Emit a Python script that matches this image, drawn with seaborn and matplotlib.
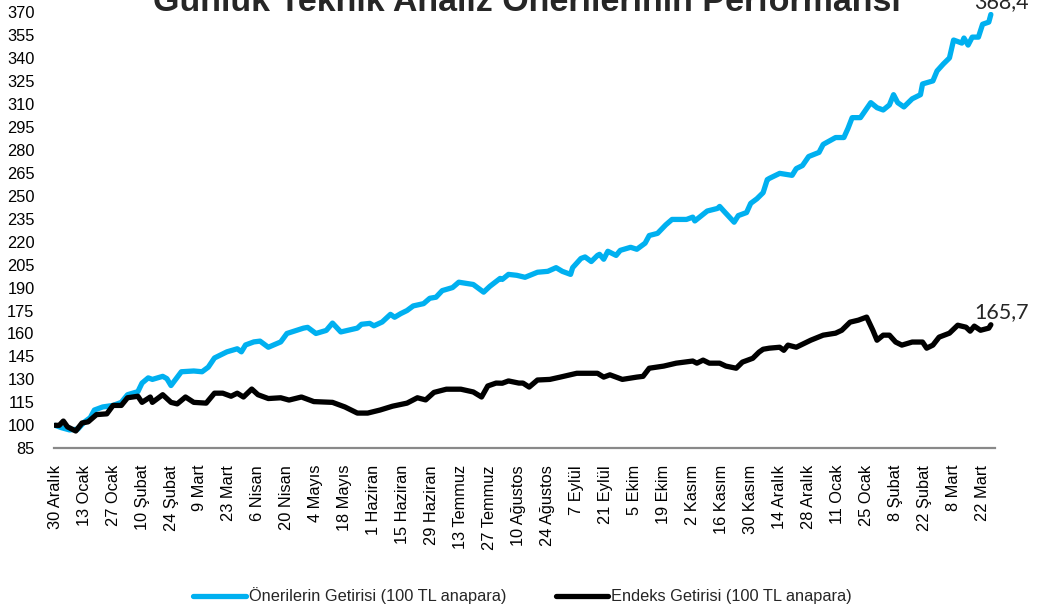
import pandas as pd
import matplotlib.pyplot as plt
import seaborn as sns

BASLANGIC = "2019-12-30"

tick_etiketleri = [
    "30 Aralık", "13 Ocak", "27 Ocak", "10 Şubat", "24 Şubat", "9 Mart", "23 Mart",
    "6 Nisan", "20 Nisan", "4 Mayıs", "18 Mayıs", "1 Haziran", "15 Haziran",
    "29 Haziran", "13 Temmuz", "27 Temmuz", "10 Ağustos", "24 Ağustos", "7 Eylül",
    "21 Eylül", "5 Ekim", "19 Ekim", "2 Kasım", "16 Kasım", "30 Kasım", "14 Aralık",
    "28 Aralık", "11 Ocak", "25 Ocak", "8 Şubat", "22 Şubat", "8 Mart", "22 Mart",
]

# gün = 30 Aralık 2019'dan itibaren geçen gün sayısı
oneri_gun = [
    0, 3, 7, 11, 14, 17, 19, 23, 28, 32,
    35, 40, 42, 45, 47, 52, 54, 56, 61, 67,
    71, 74, 77, 83, 88, 90, 92, 96, 99, 103,
    109, 112, 120, 122, 126, 131, 134, 138, 146, 148,
    152, 154, 158, 162, 164, 167, 170, 173, 178, 181,
    184, 187, 192, 195, 202, 207, 210, 215, 216, 219,
    223, 227, 233, 238, 242, 245, 249, 250, 254, 256,
    259, 262, 263, 265, 267, 271, 273, 278, 281, 285,
    287, 291, 295, 298, 305, 308, 309, 315, 320, 321,
    323, 328, 330, 334, 336, 339, 342, 344, 345, 350,
    356, 358, 361, 364, 369, 371, 377, 381, 383, 385,
    389, 394, 397, 400, 403, 405, 407, 410, 414, 418,
    419, 424, 426, 429, 432, 434, 438, 439, 441, 443,
    446, 448, 451, 452,
]
oneri_deger = [
    100, 98.5, 97, 97.5, 102, 105, 110, 112, 113, 115,
    120, 122, 127.6, 131, 130, 132, 130.5, 126, 135, 135.5,
    135, 138, 144, 148, 150, 148, 152.5, 154.5, 155, 151,
    154.5, 160, 163.5, 164, 160, 162, 166.8, 161, 163.5, 166,
    166.6, 165, 167.5, 172.5, 170.6, 173, 175, 178, 179.5, 183,
    183.7, 188, 190, 193.5, 192, 187, 190.8, 196, 195.3, 198.6,
    198, 196.7, 200, 200.6, 203, 200.6, 198.6, 203, 209, 210,
    207, 211, 211.7, 208.5, 213.7, 211, 214.3, 216.3, 215, 219,
    224, 225.4, 231, 234.5, 234.5, 236, 233.5, 240, 241.7, 243,
    240, 232.7, 237, 239, 245, 248, 252, 260.5, 261.3, 264.6,
    263.3, 267.7, 269.7, 275.6, 278.3, 283.5, 288, 288, 294, 301,
    301, 310.8, 307.5, 306, 309.3, 316, 310.8, 308, 313.3, 316,
    323, 325, 331.5, 336, 340, 351.7, 349.7, 353, 348.4, 353.6,
    353.6, 362, 363.4, 368.4,
]

endeks_gun = [
    0, 2, 4, 6, 10, 13, 16, 20, 25, 28,
    32, 35, 40, 42, 46, 47, 52, 56, 59, 63,
    67, 73, 77, 81, 85, 88, 91, 95, 98, 103,
    109, 113, 119, 125, 134, 140, 146, 151, 157, 163,
    170, 175, 179, 183, 189, 196, 202, 206, 209, 213,
    216, 219, 224, 226, 229, 233, 239, 244, 252, 258,
    262, 265, 268, 274, 281, 284, 287, 294, 300, 308,
    310, 313, 316, 321, 324, 329, 332, 337, 340, 342,
    345, 350, 352, 354, 358, 365, 371, 377, 380, 384,
    388, 392, 395, 397, 400, 403, 406, 409, 414, 419,
    421, 424, 427, 432, 436, 440, 442, 444, 447, 451,
    452,
]
endeks_deger = [
    100, 100, 102.8, 99, 96.3, 101.5, 102.3, 107, 107.5, 113,
    113, 118, 119, 115, 118.5, 115, 120, 115, 114, 118.5,
    115, 114.5, 121, 121, 119, 121, 118.5, 123.7, 120, 117.5,
    118, 116.5, 118.5, 115.5, 115, 112, 108, 108, 110, 112.5,
    114.5, 118, 116.6, 121.5, 123.6, 123.6, 121.8, 118.5, 125.7, 127.6,
    127.5, 129, 127.6, 127.6, 125, 129.6, 130, 131.5, 134, 134,
    134, 131.5, 133, 130, 131.5, 132, 137.3, 138.7, 140.6, 142,
    140.6, 142.6, 140.6, 140.6, 138.7, 137.3, 141.3, 143.8, 147.8, 149.7,
    150.4, 151, 149, 152.4, 151, 155.6, 158.9, 160.2, 162.1, 167.4,
    168.7, 170.7, 162.1, 155.6, 158.9, 158.9, 154.4, 152.4, 154.4, 154.4,
    150.4, 152.4, 157.6, 160.2, 165.4, 164.1, 161.5, 164.8, 162.1, 163.5,
    165.7,
]

seri_adlari = ["Önerilerin Getirisi (100 TL anapara)", "Endeks Getirisi (100 TL anapara)"]
renkler = ["#00B0F0", "#000000"]


def veri_hazirla():
    bas = pd.Timestamp(BASLANGIC)
    p1 = pd.DataFrame({
        "Tarih": bas + pd.to_timedelta(oneri_gun, unit="D"),
        "Değer": oneri_deger,
        "Seri": seri_adlari[0],
    })
    p2 = pd.DataFrame({
        "Tarih": bas + pd.to_timedelta(endeks_gun, unit="D"),
        "Değer": endeks_deger,
        "Seri": seri_adlari[1],
    })
    return pd.concat([p1, p2], ignore_index=True)


def ciz(df):
    sns.set_style("white")
    plt.rcParams["font.family"] = ["Liberation Sans", "DejaVu Sans"]

    fig = plt.figure(figsize=(10.37, 6.13), dpi=100)
    ax = fig.add_axes([0.0521, 0.2687, 0.9074, 0.7117])

    sns.lineplot(data=df, x="Tarih", y="Değer", hue="Seri", palette=renkler,
                 linewidth=3.8, ax=ax, estimator=None, sort=True)

    bas = pd.Timestamp(BASLANGIC)
    ax.set_xlim(bas - pd.Timedelta(hours=12), bas + pd.Timedelta(days=454))
    ax.set_ylim(85, 370)
    ax.set_yticks(range(85, 371, 15))

    tick_tarih = pd.date_range(BASLANGIC, periods=len(tick_etiketleri), freq="14D")
    ax.set_xticks(tick_tarih)
    ax.set_xticklabels(tick_etiketleri, rotation=90, ha="center", va="top")

    ax.tick_params(axis="y", length=0, pad=14, labelsize=11.8, labelcolor="black")
    ax.tick_params(axis="x", length=0, pad=12, labelsize=11.8, labelcolor="black")
    ax.set_xlabel("")
    ax.set_ylabel("")

    for s in ["top", "right", "left"]:
        ax.spines[s].set_visible(False)
    ax.spines["bottom"].set_color("#898989")
    ax.spines["bottom"].set_linewidth(1.6)
    ax.grid(False)

    # son değer etiketleri
    for gun, deger in [(oneri_gun, oneri_deger), (endeks_gun, endeks_deger)]:
        x_son = bas + pd.Timedelta(days=gun[-1])
        ax.annotate(f"{deger[-1]:.1f}".replace(".", ","), xy=(x_son, deger[-1]),
                    xytext=(-12, 4.5), textcoords="offset points",
                    ha="left", va="baseline", fontsize=15.5, family="Lato",
                    annotation_clip=False)

    fig.text(0.508, 0.982, "Günlük Teknik Analiz Önerilerinin Performansı",
             ha="center", va="baseline", fontsize=24.5, fontweight="bold")

    handles, labels = ax.get_legend_handles_labels()
    ax.legend(handles, labels, loc="center", bbox_to_anchor=(0.504, 0.028),
              bbox_transform=fig.transFigure, ncol=2, frameon=False,
              fontsize=11.8, handlelength=3.2, handletextpad=0.2,
              columnspacing=3.0)
    for ln in ax.get_legend().get_lines():
        ln.set_linewidth(3.8)

    fig.savefig("out.png", dpi=100)


def main():
    df = veri_hazirla()
    ciz(df)


if __name__ == "__main__":
    main()
